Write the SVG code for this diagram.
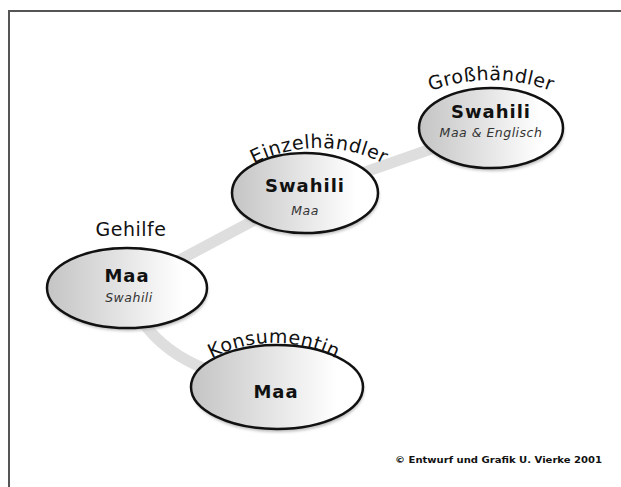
<svg xmlns="http://www.w3.org/2000/svg" xmlns:xlink="http://www.w3.org/1999/xlink" width="621" height="487" viewBox="0 0 621 487">
<style>
.node{stroke:#111;stroke-width:2.5;fill:url(#g)}
.shadow{fill:#bbb;filter:url(#blur)}
.lbl{font-family:"DejaVu Sans","Liberation Sans",sans-serif;font-size:19px;fill:#111;letter-spacing:0.5px;text-anchor:middle}
.main{font-family:"DejaVu Sans","Liberation Sans",sans-serif;font-weight:bold;font-size:18px;fill:#111;text-anchor:middle;letter-spacing:1px}
.sub{font-family:"DejaVu Sans","Liberation Sans",sans-serif;font-style:italic;font-size:12.5px;fill:#333;text-anchor:middle;letter-spacing:0.5px}
.conn{fill:none;stroke:#dedede;stroke-width:11}
</style>
<defs>
<linearGradient id="g" x1="0" y1="0" x2="1" y2="0">
<stop offset="0" stop-color="#c4c4c4"/>
<stop offset="0.85" stop-color="#ffffff"/>
<stop offset="1" stop-color="#ffffff"/>
</linearGradient>
<filter id="blur" x="-20%" y="-20%" width="140%" height="140%"><feGaussianBlur stdDeviation="1.5"/></filter>
<path id="a1" d="M321,250 A170,170 0 0 1 661,250"/>
<path id="a2" d="M177,290 A142,142 0 0 1 461,290"/>
<path id="a3" d="M139,478 A135,135 0 0 1 409,478"/>
</defs>
<rect width="621" height="487" fill="#fff"/>
<path d="M9,487 V11 H621" fill="none" stroke="#555" stroke-width="2"/>
<g id="connectors">
<path class="conn" d="M127,288 L305,193 L491,128"/>
<path class="conn" d="M127,288 Q150,370 277,387"/>
</g>
<g id="grosshaendler">
<ellipse class="shadow" cx="492" cy="131" rx="72" ry="40"/>
<ellipse class="node" cx="491" cy="128" rx="72" ry="40"/>
<text class="lbl"><textPath xlink:href="#a1" href="#a1" startOffset="50%">Großhändler</textPath></text>
<text class="main" x="491" y="118">Swahili</text>
<text class="sub" x="491" y="137">Maa &amp; Englisch</text>
</g>
<g id="einzelhaendler">
<ellipse class="shadow" cx="306" cy="196" rx="73" ry="40"/>
<ellipse class="node" cx="305" cy="193" rx="73" ry="40"/>
<text class="lbl" letter-spacing="1.5"><textPath xlink:href="#a2" href="#a2" startOffset="50%">Einzelhändler</textPath></text>
<text class="main" x="305" y="192">Swahili</text>
<text class="sub" x="305" y="215">Maa</text>
</g>
<g id="gehilfe">
<ellipse class="shadow" cx="128" cy="291" rx="80" ry="40"/>
<ellipse class="node" cx="127" cy="288" rx="80" ry="40"/>
<text class="lbl" x="131" y="236" font-size="20" letter-spacing="1.8">Gehilfe</text>
<text class="main" x="127" y="282">Maa</text>
<text class="sub" x="129" y="302" letter-spacing="1.5">Swahili</text>
</g>
<g id="konsumentin">
<ellipse class="shadow" cx="278" cy="390" rx="86" ry="42"/>
<ellipse class="node" cx="277" cy="387" rx="86" ry="42"/>
<text class="lbl" letter-spacing="1.3"><textPath xlink:href="#a3" href="#a3" startOffset="50%">Konsumentin</textPath></text>
<text class="main" x="276" y="398">Maa</text>
</g>
<text x="395" y="463" font-family="DejaVu Sans, sans-serif" font-size="9.5" font-weight="bold" fill="#111" textLength="207" lengthAdjust="spacingAndGlyphs">© Entwurf und Grafik U. Vierke 2001</text>
</svg>
